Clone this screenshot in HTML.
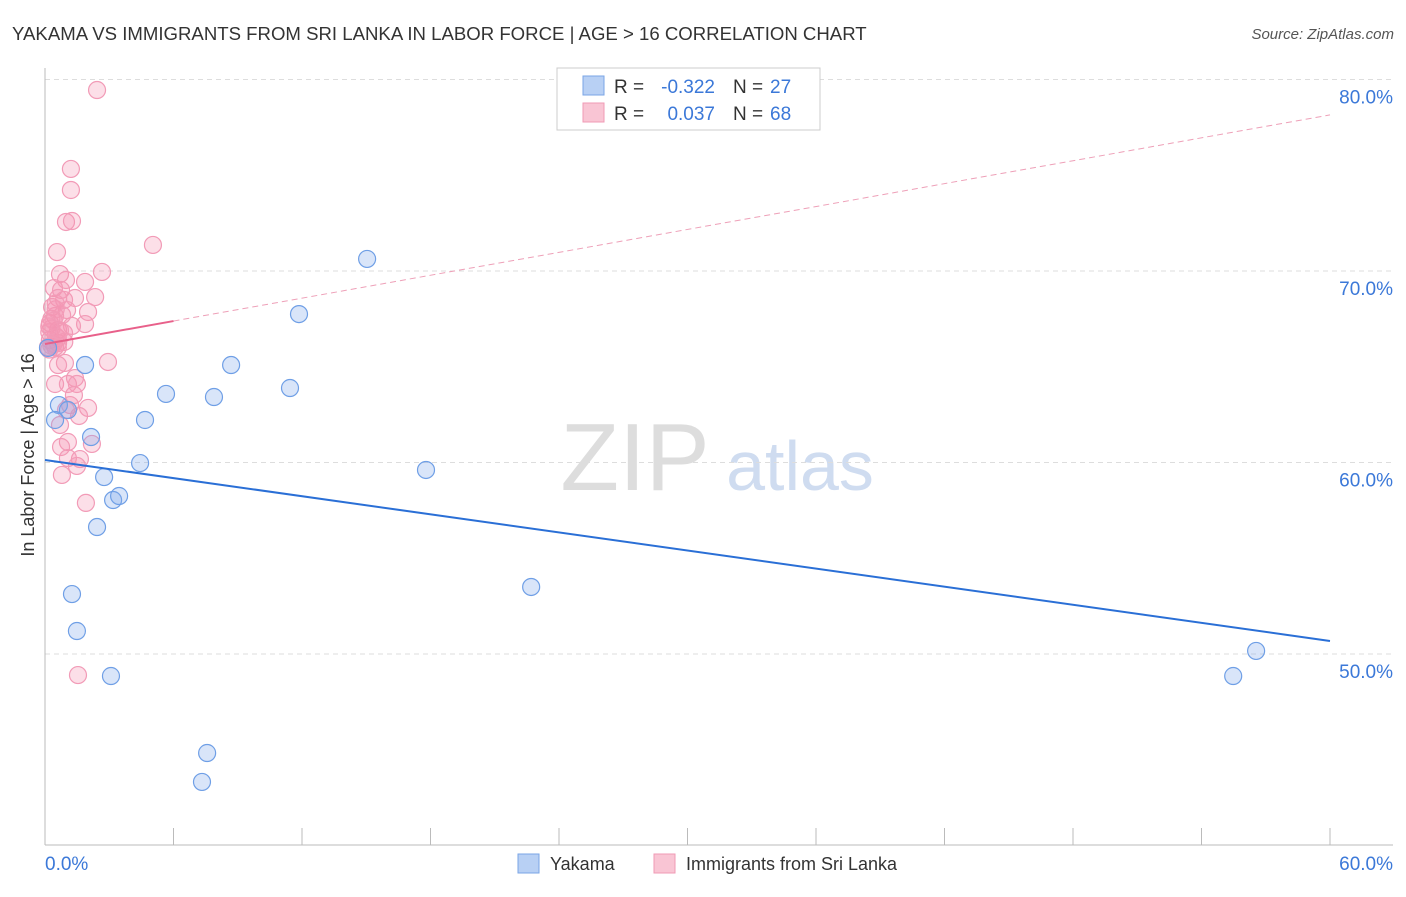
<!DOCTYPE html>
<html><head><meta charset="utf-8"><style>
body{margin:0;background:#fff;font-family:"Liberation Sans",sans-serif;}
svg text{font-family:"Liberation Sans",sans-serif;}
</style></head><body>
<svg id="chart" width="1406" height="892">
<text x="12" y="40" font-size="18.6" fill="#333">YAKAMA VS IMMIGRANTS FROM SRI LANKA IN LABOR FORCE | AGE &gt; 16 CORRELATION CHART</text>
<text x="1394" y="39" font-size="15" fill="#555" text-anchor="end" font-style="italic">Source: ZipAtlas.com</text>
<g>
<text x="635" y="490" font-size="96" fill="#ddd" text-anchor="middle" font-family="Liberation Serif,serif">ZIP</text>
<text x="800" y="490" font-size="70" fill="#cfdcf0" text-anchor="middle">atlas</text>
</g>
<g id="grid"></g>
<g id="axes"></g>
<g id="marks"></g>
<text transform="translate(34,455) rotate(-90)" font-size="18" fill="#333" text-anchor="middle">In Labor Force | Age &gt; 16</text>
<g>
<rect x="557" y="68" width="263" height="62" fill="#fff" stroke="#ccc"/>
<rect x="583" y="76" width="21" height="19" fill="#b8d0f4" stroke="#7aa5e6"/>
<rect x="583" y="103" width="21" height="19" fill="#f9c5d4" stroke="#f09ab5"/>
<text x="614" y="93" font-size="19" fill="#333">R =</text>
<text x="715" y="93" font-size="19" fill="#3b78d8" text-anchor="end">-0.322</text>
<text x="733" y="93" font-size="19" fill="#333">N =</text>
<text x="770" y="93" font-size="19" fill="#3b78d8">27</text>
<text x="614" y="120" font-size="19" fill="#333">R =</text>
<text x="715" y="120" font-size="19" fill="#3b78d8" text-anchor="end">0.037</text>
<text x="733" y="120" font-size="19" fill="#333">N =</text>
<text x="770" y="120" font-size="19" fill="#3b78d8">68</text>
</g>
<g>
<rect x="518" y="854" width="21" height="19" fill="#b8d0f4" stroke="#7aa5e6"/>
<text x="550" y="870" font-size="18" fill="#333">Yakama</text>
<rect x="654" y="854" width="21" height="19" fill="#f9c5d4" stroke="#f09ab5"/>
<text x="686" y="870" font-size="18" fill="#333">Immigrants from Sri Lanka</text>
</g>
</svg>
<script>
const yTicks=[50,60,70,80];
const yTickLabels=["50.0%","60.0%","70.0%","80.0%"];
const xTickLabels=["0.0%","60.0%"];
const blueX=[15.04,11.86,8.69,5.65,7.89,11.44,1.87,0.65,1.07,0.47,4.67,2.15,4.44,2.76,3.18,3.46,2.43,17.79,1.26,1.49,3.08,22.7,56.55,55.48,7.57,7.33,0.14];
const blueY=[70.63,67.75,65.09,63.58,63.42,63.89,65.09,63.0,62.74,62.22,62.22,61.33,59.97,59.24,58.04,58.25,56.63,59.61,53.13,51.2,48.85,53.5,50.16,48.85,44.83,43.32,65.98];
const pinkX=[2.43,1.21,1.21,0.98,1.26,5.04,0.56,2.66,0.70,0.98,1.87,0.42,0.75,2.34,0.61,0.89,1.40,0.33,1.03,2.01,0.47,1.87,1.26,0.23,0.61,0.89,0.23,0.61,0.14,0.47,2.94,0.93,0.61,1.40,0.47,1.07,1.49,1.35,1.17,2.01,0.98,1.59,0.70,1.07,2.19,0.75,1.63,1.07,1.49,0.79,1.91,1.54,0.3,0.5,0.2,0.8,0.4,0.6,0.3,0.5,0.2,0.9,0.4,0.3,0.7,0.5,0.2,0.6];
const pinkY=[79.45,75.33,74.23,72.56,72.61,71.36,70.99,69.95,69.84,69.53,69.43,69.11,69.01,68.64,68.59,68.49,68.59,68.12,67.96,67.86,67.65,67.23,67.13,67.28,66.92,66.76,66.40,66.24,66.03,66.03,65.25,65.20,65.09,64.41,64.10,64.10,64.10,63.52,63.0,62.85,62.74,62.43,61.96,61.07,60.97,60.81,60.18,60.23,59.82,59.35,57.89,48.90,67.5,66.6,66.8,67.7,66.2,66.5,67.0,68.0,65.9,66.3,67.4,66.1,66.9,68.3,67.1,66.0];
const blueTrend=[60.13,50.68];
const pinkTrend=[66.19,78.15];
const X0=45,X1=1330;
function xs(v){return X0+(v/60)*(X1-X0);}
function ys(v){return 654-(v-50)*19.15;}
const NS="http://www.w3.org/2000/svg";
function mk(tag,attrs,parent){const e=document.createElementNS(NS,tag);for(const k in attrs)e.setAttribute(k,attrs[k]);document.getElementById(parent).appendChild(e);return e;}
yTicks.forEach((t,i)=>{
 const g=mk('line',{x1:45,x2:1393,y1:ys(t),y2:ys(t),stroke:'#ddd','stroke-dasharray':'5,4'},'grid');
 
 
 const l=mk('text',{x:1393,y:ys(t)+24,'font-size':19,fill:'#3b78d8','text-anchor':'end'},'axes');
 l.textContent=yTickLabels[i];
 
 
});
const ax=mk('line',{x1:45,x2:45,y1:68,y2:845,stroke:'#bbb'},'axes');


const bx=mk('line',{x1:45,x2:1393,y1:845,y2:845,stroke:'#bbb'},'axes');


for(let i=0;i<=10;i++){
 const t=mk('line',{x1:xs(i*6),x2:xs(i*6),y1:828,y2:845,stroke:'#bbb'},'axes');
 
 
}
[[0,'start'],[60,'end']].forEach((p,i)=>{
 const l=mk('text',{x:i?1393:45,y:870,'font-size':19,fill:'#3b78d8','text-anchor':p[1]},'axes');
 l.textContent=xTickLabels[i];
 
 
});
pinkX.forEach((x,i)=>{
 const c=mk('circle',{cx:xs(x),cy:ys(pinkY[i]),r:8.5,fill:'rgba(244,150,180,0.3)',stroke:'#f29bb7','stroke-width':1.2},'marks');
 
 
});
blueX.forEach((x,i)=>{
 const c=mk('circle',{cx:xs(x),cy:ys(blueY[i]),r:8.5,fill:'rgba(130,170,235,0.3)',stroke:'#6f9fe6','stroke-width':1.2},'marks');
 
 
});
const bt=mk('line',{x1:xs(0),y1:ys(blueTrend[0]),x2:xs(60),y2:ys(blueTrend[1]),stroke:'#2a6fd6','stroke-width':2},'marks');


const pm=(x)=>pinkTrend[0]+(pinkTrend[1]-pinkTrend[0])*x/60;
const pd=mk('line',{x1:xs(6),y1:ys(pm(6)),x2:xs(60),y2:ys(pinkTrend[1]),stroke:'#eea0b8','stroke-width':1,'stroke-dasharray':'6,4'},'marks');


const ps=mk('line',{x1:xs(0),y1:ys(pinkTrend[0]),x2:xs(6),y2:ys(pm(6)),stroke:'#e8608a','stroke-width':2},'marks');


</script>
</body></html>
